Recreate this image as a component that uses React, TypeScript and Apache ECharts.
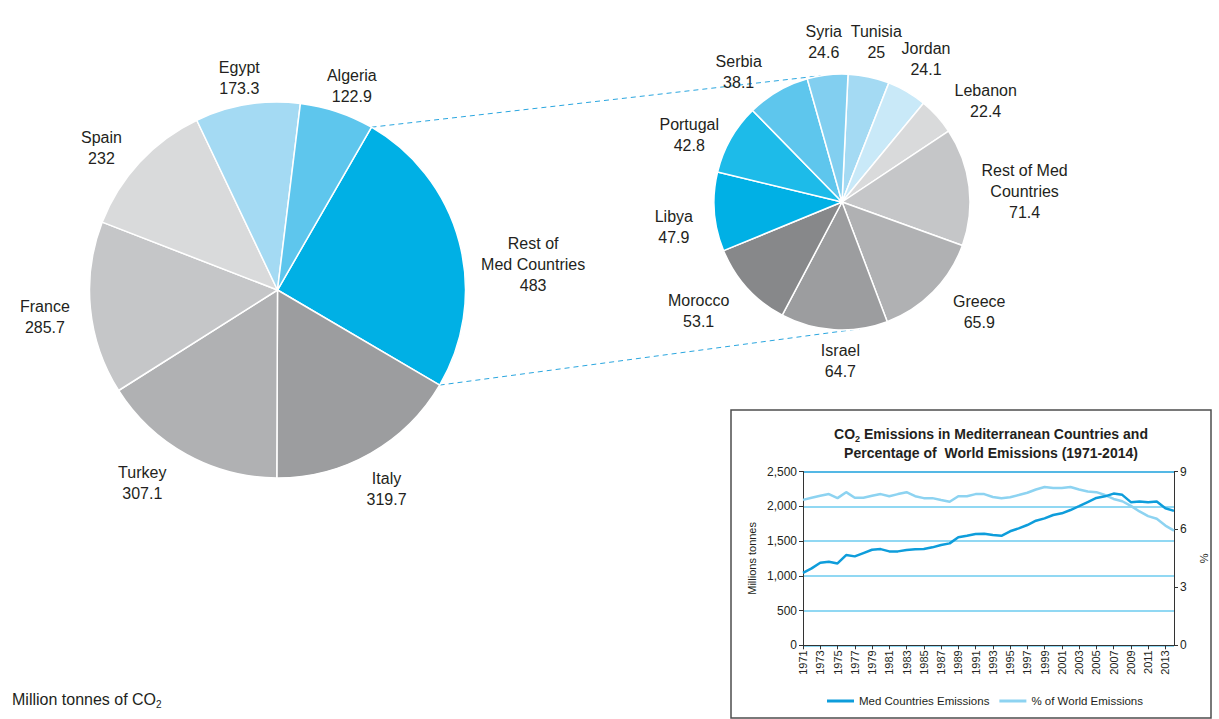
import React, { useEffect, useRef } from 'react';
import * as echarts from 'echarts';

const FONT = "'Liberation Sans', Arial, Helvetica, sans-serif";
const INK = '#231f20';

// Main pie: Million tonnes of CO2 by country
const mainNames = ['Rest of Med Countries', 'Italy', 'Turkey', 'France', 'Spain', 'Egypt', 'Algeria'];
const mainValues = [483, 319.7, 307.1, 285.7, 232, 173.3, 122.9];
const mainColors = ['#00b0e5', '#9c9d9f', '#b0b1b3', '#c5c6c8', '#d9dadb', '#a4daf3', '#5ec6ed'];

// Breakdown of "Rest of Med Countries"
const restNames = ['Tunisia', 'Jordan', 'Lebanon', 'Rest of Med Countries', 'Greece', 'Israel', 'Morocco', 'Libya', 'Portugal', 'Serbia', 'Syria'];
const restValues = [25, 24.1, 22.4, 71.4, 65.9, 64.7, 53.1, 47.9, 42.8, 38.1, 24.6];
const restColors = ['#a4daf3', '#c9e9f8', '#d9dadb', '#c5c6c8', '#b0b1b3', '#9c9d9f', '#87888a', '#00b0e5', '#1dbbe9', '#5ec6ed', '#82cff0'];

// Inset line chart
const years = ['1971', '1972', '1973', '1974', '1975', '1976', '1977', '1978', '1979', '1980',
  '1981', '1982', '1983', '1984', '1985', '1986', '1987', '1988', '1989', '1990',
  '1991', '1992', '1993', '1994', '1995', '1996', '1997', '1998', '1999', '2000',
  '2001', '2002', '2003', '2004', '2005', '2006', '2007', '2008', '2009', '2010',
  '2011', '2012', '2013', '2014'];
const medEmissions = [1043, 1107, 1187, 1202, 1178, 1298, 1279, 1327, 1374, 1384,
  1351, 1351, 1370, 1380, 1384, 1409, 1442, 1466, 1553, 1576,
  1600, 1605, 1586, 1575, 1640, 1682, 1730, 1792, 1826, 1874,
  1898, 1946, 2003, 2061, 2119, 2143, 2182, 2164, 2059, 2068,
  2059, 2068, 1972, 1934];
const worldShare = [7.53, 7.64, 7.74, 7.83, 7.62, 7.93, 7.64, 7.64, 7.74, 7.83,
  7.72, 7.83, 7.93, 7.72, 7.62, 7.62, 7.52, 7.43, 7.72, 7.72,
  7.83, 7.83, 7.68, 7.62, 7.67, 7.78, 7.9, 8.07, 8.2, 8.14,
  8.14, 8.2, 8.07, 7.96, 7.93, 7.78, 7.58, 7.46, 7.22, 6.93,
  6.69, 6.55, 6.2, 5.94];
const leftAxis = { min: 0, max: 2500, interval: 500 };
const rightAxis = { min: 0, max: 9, interval: 3 };

// Geometry
const MAIN = { cx: 277.5, cy: 290, r: 188, start: 60 };
const SUB = { cx: 842, cy: 202, r: 128, start: 87.3 };

// Label placement tweaks (angle offset in degrees, radial offset in px)
const mainLabelNudge: Record<string, [number, number]> = {
  'Rest of Med Countries': [-9, 3], Italy: [-1, 0], Turkey: [-6, 6], France: [1, 8],
  Spain: [4, -2], Egypt: [1, -8], Algeria: [-1.5, -10],
};
const restLabelNudge: Record<string, [number, number]> = {
  Serbia: [8.5, -3], Syria: [0, 0], Tunisia: [0, 0], Jordan: [0, -3], Lebanon: [-7, 0],
  'Rest of Med Countries': [-3.5, 0], Greece: [6, 4], Israel: [3, 0], Morocco: [-5, 5],
  Libya: [4, 10], Portugal: [6, -7],
};

function midAngles(values: number[], start: number) {
  const total = values.reduce((a, b) => a + b, 0);
  let a = start;
  return values.map((v) => {
    const span = (v / total) * 360;
    const m = a - span / 2;
    a -= span;
    return m;
  });
}
function boundaryAngles(values: number[], start: number) {
  const total = values.reduce((a, b) => a + b, 0);
  let a = start;
  const out = [a];
  values.forEach((v) => { a -= (v / total) * 360; out.push(a); });
  return out;
}

function makeLayout(names: string[], values: number[], geo: typeof MAIN, gap: number, nudge: Record<string, [number, number]>) {
  const mids = midAngles(values, geo.start);
  return (params: any) => {
    const [da, dr] = nudge[names[params.dataIndex]] || [0, 0];
    const rad = ((mids[params.dataIndex] + da) * Math.PI) / 180;
    const c = Math.cos(rad);
    const s = -Math.sin(rad);
    const w = params.labelRect.width;
    const h = params.labelRect.height;
    const d = geo.r + gap + dr + (Math.abs(c) * w) / 2 + (Math.abs(s) * h) / 2;
    return { x: geo.cx + c * d, y: geo.cy + s * d, align: 'center', verticalAlign: 'middle' };
  };
}

function pt(geo: typeof MAIN, deg: number) {
  const rad = (deg * Math.PI) / 180;
  return [geo.cx + geo.r * Math.cos(rad), geo.cy - geo.r * Math.sin(rad)];
}

export default function App() {
  const ref = useRef<HTMLDivElement>(null);
  useEffect(() => {
    if (!ref.current) return;
    const chart = echarts.init(ref.current, undefined, { renderer: 'svg' });

    const labelBase = {
      show: true,
      position: 'outside',
      fontSize: 16,
      lineHeight: 21,
      color: INK,
      fontFamily: FONT,
      align: 'center',
    };

    const mainBounds = boundaryAngles(mainValues, MAIN.start);
    const upperA = pt(MAIN, mainBounds[0]);
    const lowerA = pt(MAIN, mainBounds[1]);
    const upperB = pt(SUB, 99);
    const lowerB = pt(SUB, -82);

    const gridLight = '#6dcbef';

    const option: any = {
      animation: false,
      textStyle: { fontFamily: FONT },
      title: {
        left: 986,
        top: 420,
        textAlign: 'center',
        text: '{b|CO}{s|2}{b| Emissions in Mediterranean Countries and}\n{b|Percentage of  World Emissions (1971-2014)}',
        textStyle: {
          rich: {
            b: { fontSize: 14, fontWeight: 'bold', color: INK, fontFamily: FONT, lineHeight: 18.5 },
            s: { fontSize: 9, fontWeight: 'bold', color: INK, fontFamily: FONT, lineHeight: 11, verticalAlign: 'bottom' },
          },
        },
      },
      legend: {
        left: 822,
        top: 690,
        itemWidth: 27,
        itemHeight: 3,
        itemGap: 10,
        icon: 'rect',
        data: ['Med Countries Emissions', '% of World Emissions'],
        textStyle: { fontSize: 11.5, color: INK, fontFamily: FONT },
      },
      grid: { left: 803, right: 45, top: 471.5, bottom: 73.7, containLabel: false },
      xAxis: {
        type: 'category',
        data: years,
        boundaryGap: false,
        axisLine: { lineStyle: { color: '#333', width: 1 } },
        axisTick: { interval: 1, length: 4, lineStyle: { color: '#333' } },
        axisLabel: { interval: 1, rotate: 90, fontSize: 11, color: INK, margin: 5, fontFamily: FONT },
      },
      yAxis: [
        {
          type: 'value',
          min: leftAxis.min,
          max: leftAxis.max,
          interval: leftAxis.interval,
          name: 'Millions tonnes',
          nameLocation: 'middle',
          nameGap: 46,
          nameTextStyle: { fontSize: 11, color: INK, fontFamily: FONT },
          axisLine: { show: true, lineStyle: { color: '#333', width: 1 } },
          axisTick: { show: true, length: 4, lineStyle: { color: '#333' } },
          axisLabel: {
            fontSize: 12, color: INK, margin: 6, fontFamily: FONT,
            formatter: (v: number) => v.toLocaleString('en-US'),
          },
          splitLine: {
            show: true,
            lineStyle: { color: [gridLight, gridLight, gridLight, gridLight, gridLight, '#1ba1dc'], width: 1.5 },
          },
        },
        {
          type: 'value',
          position: 'right',
          min: rightAxis.min,
          max: rightAxis.max,
          interval: rightAxis.interval,
          name: '%',
          nameLocation: 'middle',
          nameRotate: 90,
          nameGap: 24,
          nameTextStyle: { fontSize: 11, color: INK, fontFamily: FONT },
          axisLine: { show: true, lineStyle: { color: '#333', width: 1 } },
          axisTick: { show: true, length: 4, lineStyle: { color: '#333' } },
          axisLabel: { fontSize: 12, color: INK, margin: 6, fontFamily: FONT },
          splitLine: { show: false },
        },
      ],
      series: [
        {
          type: 'pie',
          center: [MAIN.cx, MAIN.cy],
          radius: MAIN.r,
          startAngle: MAIN.start,
          clockwise: true,
          avoidLabelOverlap: false,
          silent: true,
          itemStyle: { borderColor: '#fff', borderWidth: 1.5 },
          data: mainNames.map((n, i) => ({ name: n, value: mainValues[i], itemStyle: { color: mainColors[i] } })),
          label: {
            ...labelBase,
            formatter: (p: any) => (p.name === 'Rest of Med Countries' ? 'Rest of\nMed Countries' : p.name) + '\n' + p.value,
          },
          labelLine: { show: false },
          labelLayout: makeLayout(mainNames, mainValues, MAIN, 11, mainLabelNudge),
        },
        {
          type: 'pie',
          center: [SUB.cx, SUB.cy],
          radius: SUB.r,
          startAngle: SUB.start,
          clockwise: true,
          avoidLabelOverlap: false,
          silent: true,
          itemStyle: { borderColor: '#fff', borderWidth: 1.5 },
          data: restNames.map((n, i) => ({ name: n, value: restValues[i], itemStyle: { color: restColors[i] } })),
          label: {
            ...labelBase,
            formatter: (p: any) => (p.name === 'Rest of Med Countries' ? 'Rest of Med\nCountries' : p.name) + '\n' + p.value,
          },
          labelLine: { show: false },
          labelLayout: makeLayout(restNames, restValues, SUB, 10, restLabelNudge),
        },
        {
          name: '% of World Emissions',
          type: 'line',
          yAxisIndex: 1,
          data: worldShare,
          showSymbol: false,
          symbol: 'none',
          lineStyle: { color: '#8dd3f1', width: 2.5 },
          itemStyle: { color: '#8dd3f1' },
          silent: true,
        },
        {
          name: 'Med Countries Emissions',
          type: 'line',
          yAxisIndex: 0,
          data: medEmissions,
          showSymbol: false,
          symbol: 'none',
          lineStyle: { color: '#0e9ddb', width: 2.5 },
          itemStyle: { color: '#0e9ddb' },
          silent: true,
        },
      ],
      graphic: [
        {
          type: 'rect',
          silent: true,
          z: -10,
          shape: { x: 731, y: 410, width: 480, height: 308 },
          style: { fill: 'none', stroke: '#4d4d4d', lineWidth: 1.5 },
        },
        {
          type: 'line',
          silent: true,
          shape: { x1: upperA[0], y1: upperA[1], x2: upperB[0], y2: upperB[1] },
          style: { stroke: '#2aa6df', lineWidth: 1, lineDash: [5, 4] },
        },
        {
          type: 'line',
          silent: true,
          shape: { x1: lowerA[0], y1: lowerA[1], x2: lowerB[0], y2: lowerB[1] },
          style: { stroke: '#2aa6df', lineWidth: 1, lineDash: [5, 4] },
        },
        {
          type: 'text',
          silent: true,
          x: 12,
          y: 699,
          style: {
            text: '{a|Million tonnes of CO}{s|2}',
            verticalAlign: 'middle',
            rich: {
              a: { fontSize: 16, fill: INK, fontFamily: FONT, lineHeight: 20 },
              s: { fontSize: 10, fill: INK, fontFamily: FONT, lineHeight: 12, verticalAlign: 'bottom' },
            },
          },
        },
      ],
    };

    chart.setOption(option);
    return () => chart.dispose();
  }, []);

  return (
    <div
      ref={ref}
      style={{ position: 'absolute', left: 0, top: 0, width: 1219, height: 719, background: '#fff' }}
    />
  );
}
